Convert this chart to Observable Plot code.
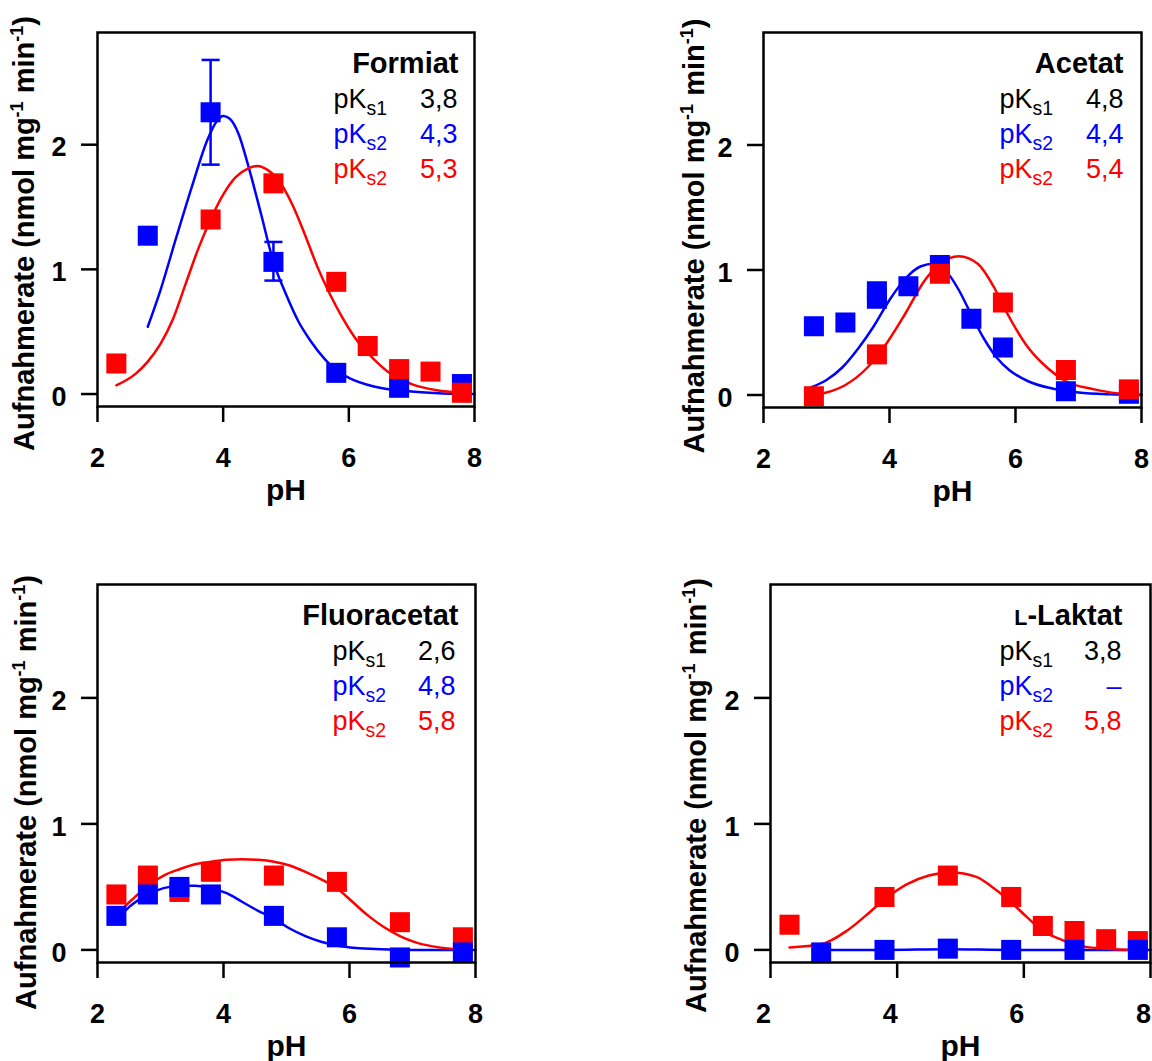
<!DOCTYPE html>
<html>
<head>
<meta charset="utf-8">
<script src="https://cdn.jsdelivr.net/npm/d3@7"></script>
<script src="https://cdn.jsdelivr.net/npm/@observablehq/plot@0.6"></script>
<style>
  html, body { margin: 0; padding: 0; background: #fff; }
  #root { position: relative; width: 1152px; height: 1061px; overflow: hidden; background: #fff; }
  .panel { position: absolute; }
</style>
</head>
<body>
<div id="root"></div>
<script>
// ---------- axes ----------
const xTicks = [2, 4, 6, 8];
const yTicks = [0, 1, 2];
const xDomain = [2, 8];
const yDomain = [-0.1, 2.9];
const xLabel = "pH";
const yLabel = "Aufnahmerate (nmol mg^{-1} min^{-1})";

// ---------- annotations ----------
const substrates = ["Formiat", "Acetat", "Fluoracetat", "~{L}-Laktat"];
const pKLabels = ["pK_{s1}", "pK_{s2}", "pK_{s2}"];
const pKs1 = ["3,8", "4,8", "2,6", "3,8"];
const pKs2Blue = ["4,3", "4,4", "4,8", "–"];
const pKs2Red = ["5,3", "5,4", "5,8", "5,8"];

// ---------- Formiat ----------
const formiatBlue = [[2.8, 1.27], [3.8, 2.26], [4.8, 1.06], [5.8, 0.17], [6.8, 0.05], [7.8, 0.08]];
const formiatBlueErr = [[3.8, 1.84, 2.68], [4.8, 0.91, 1.22]];
const formiatRed = [[2.3, 0.245], [3.8, 1.40], [4.8, 1.69], [5.8, 0.90], [6.3, 0.385], [6.8, 0.20], [7.3, 0.18], [7.8, 0.01]];
const formiatBlueFit = [[2.8, 0.54], [3.0, 0.83], [3.25, 1.25], [3.5, 1.66], [3.75, 2.04], [3.9, 2.19], [4.0, 2.23], [4.1, 2.21], [4.25, 2.08], [4.4, 1.83], [4.6, 1.45], [4.8, 1.06], [5.0, 0.80], [5.2, 0.58], [5.4, 0.42], [5.6, 0.29], [5.8, 0.19], [6.0, 0.13], [6.4, 0.06], [7.0, 0.02], [7.5, 0.005], [8.0, 0.0]];
const formiatRedFit = [[2.3, 0.07], [2.6, 0.16], [2.8, 0.26], [3.0, 0.40], [3.2, 0.60], [3.4, 0.88], [3.6, 1.16], [3.8, 1.40], [4.0, 1.60], [4.2, 1.74], [4.4, 1.81], [4.55, 1.83], [4.7, 1.80], [4.9, 1.70], [5.1, 1.52], [5.3, 1.28], [5.5, 1.02], [5.7, 0.80], [5.9, 0.61], [6.1, 0.45], [6.3, 0.33], [6.5, 0.23], [6.7, 0.15], [7.0, 0.08], [7.4, 0.03], [7.8, 0.01]];

// ---------- Acetat ----------
const acetatBlue = [[2.8, 0.55], [3.3, 0.58], [3.8, 0.77], [3.8, 0.83], [4.3, 0.87], [4.8, 1.04], [5.3, 0.61], [5.8, 0.38], [6.8, 0.03], [7.8, 0.01]];
const acetatBlueErr = [[4.8, 0.98, 1.10]];
const acetatRed = [[2.8, -0.01], [3.8, 0.325], [4.8, 0.97], [5.8, 0.74], [6.8, 0.20], [7.8, 0.045]];
const acetatBlueFit = [[2.75, 0.06], [3.0, 0.12], [3.25, 0.22], [3.5, 0.37], [3.75, 0.55], [4.0, 0.76], [4.25, 0.93], [4.5, 1.03], [4.7, 1.05], [4.9, 0.99], [5.1, 0.84], [5.3, 0.64], [5.5, 0.45], [5.7, 0.30], [5.9, 0.20], [6.2, 0.11], [6.6, 0.05], [7.0, 0.02], [7.5, 0.005], [8.0, 0.0]];
const acetatRedFit = [[2.8, 0.0], [3.0, 0.02], [3.3, 0.08], [3.65, 0.22], [3.95, 0.41], [4.25, 0.65], [4.55, 0.91], [4.8, 1.05], [5.1, 1.11], [5.4, 1.05], [5.65, 0.87], [5.85, 0.67], [6.2, 0.38], [6.5, 0.22], [6.8, 0.11], [7.25, 0.045], [7.6, 0.015], [8.0, 0.005]];

// ---------- Fluoracetat ----------
const fluorBlue = [[2.3, 0.27], [2.8, 0.44], [3.3, 0.50], [3.8, 0.44], [4.8, 0.27], [5.8, 0.10], [6.8, -0.06], [7.8, -0.02]];
const fluorRed = [[2.3, 0.44], [2.8, 0.59], [3.3, 0.46], [3.8, 0.62], [4.8, 0.59], [5.8, 0.54], [6.8, 0.22], [7.8, 0.10]];
const fluorBlueFit = [[2.3, 0.24], [2.55, 0.36], [2.8, 0.44], [3.05, 0.49], [3.3, 0.51], [3.55, 0.51], [3.8, 0.49], [4.05, 0.45], [4.3, 0.38], [4.55, 0.31], [4.8, 0.25], [5.05, 0.17], [5.3, 0.11], [5.55, 0.065], [5.8, 0.035], [6.1, 0.015], [6.5, 0.005], [7.0, 0.0], [8.0, 0.0]];
const fluorRedFit = [[2.3, 0.28], [2.55, 0.40], [2.8, 0.51], [3.05, 0.59], [3.3, 0.64], [3.55, 0.68], [3.8, 0.70], [4.05, 0.715], [4.3, 0.72], [4.55, 0.715], [4.8, 0.70], [5.05, 0.67], [5.3, 0.62], [5.55, 0.56], [5.8, 0.49], [6.05, 0.38], [6.3, 0.27], [6.55, 0.18], [6.8, 0.11], [7.05, 0.06], [7.3, 0.03], [7.6, 0.01], [7.8, 0.005]];

// ---------- L-Laktat ----------
const laktatBlue = [[2.8, -0.02], [3.8, 0.0], [4.8, 0.01], [5.8, 0.0], [6.8, 0.0], [7.8, 0.0]];
const laktatRed = [[2.3, 0.20], [3.8, 0.42], [4.8, 0.59], [5.8, 0.42], [6.3, 0.19], [6.8, 0.15], [7.3, 0.085], [7.8, 0.07]];
const laktatBlueFit = [[2.8, 0.0], [3.8, 0.0], [4.8, 0.005], [5.8, 0.0], [6.8, 0.0], [8.0, 0.0]];
const laktatRedFit = [[2.3, 0.02], [2.8, 0.045], [3.2, 0.15], [3.5, 0.27], [3.8, 0.40], [4.15, 0.52], [4.5, 0.59], [4.85, 0.615], [5.25, 0.58], [5.5, 0.50], [5.75, 0.40], [6.05, 0.26], [6.3, 0.15], [6.6, 0.08], [6.9, 0.03], [7.3, 0.01], [7.75, 0.0]];

// ---------- layout / style ----------
const BLUE = "#0000ff", RED = "#ff0000", BLACK = "#000000";
const FONT = "'Liberation Sans', Arial, Helvetica, sans-serif";

const panels = [
  {left: 0, top: 0, width: 576, height: 552, mL: 97, mR: 102, mT: 32, mB: 146, ylDx: -64, ylDy: 14, titleDx: -16, pkDx: -141, valDx: -17, xtDx: 0,
   blue: formiatBlue, red: formiatRed, blueFit: formiatBlueFit, redFit: formiatRedFit, err: formiatBlueErr, redOnTop: true},
  {left: 576, top: 0, width: 576, height: 552, mL: 187, mR: 11, mT: 32, mB: 145, ylDx: -60, ylDy: 16, titleDx: -18, pkDx: -142, valDx: -18, xtDx: 0,
   blue: acetatBlue, red: acetatRed, blueFit: acetatBlueFit, redFit: acetatRedFit, err: acetatBlueErr, redOnTop: true},
  {left: 0, top: 552, width: 576, height: 509, mL: 97, mR: 101, mT: 32, mB: 99, ylDx: -62, ylDy: 19, titleDx: -17, pkDx: -143, valDx: -20, xtDx: 0,
   blue: fluorBlue, red: fluorRed, blueFit: fluorBlueFit, redFit: fluorRedFit, err: [], redOnTop: false},
  {left: 576, top: 552, width: 576, height: 509, mL: 194, mR: 2, mT: 32, mB: 99, ylDx: -65, ylDy: 22, titleDx: -28, pkDx: -151, valDx: -29, xtDx: -7,
   blue: laktatBlue, red: laktatRed, blueFit: laktatBlueFit, redFit: laktatRedFit, err: [], redOnTop: false}
];

const capSymbol = {
  draw(ctx, size) {
    const h = Math.sqrt(size / Math.PI) * 0.8;
    ctx.moveTo(-h, 0);
    ctx.lineTo(h, 0);
  }
};

// turn markup _{sub} ^{sup} ~{smallcap} into tspans
function richify(svg) {
  const re = /([_^~])\{([^}]*)\}/g;
  svg.querySelectorAll("text").forEach(t => {
    const s = t.textContent;
    if (!/[_^~]\{/.test(s)) return;
    const segs = [];
    let last = 0, m;
    re.lastIndex = 0;
    while ((m = re.exec(s))) {
      if (m.index > last) segs.push({type: "n", txt: s.slice(last, m.index)});
      segs.push({type: m[1], txt: m[2]});
      last = m.index + m[0].length;
    }
    if (last < s.length) segs.push({type: "n", txt: s.slice(last)});
    t.textContent = "";
    let shift = 0;
    for (const sg of segs) {
      const ts = document.createElementNS("http://www.w3.org/2000/svg", "tspan");
      let target = 0;
      if (sg.type === "_") { ts.setAttribute("font-size", "0.72em"); target = 7; }
      else if (sg.type === "^") { ts.setAttribute("font-size", "0.62em"); target = -11; }
      else if (sg.type === "~") { ts.setAttribute("font-size", "0.74em"); }
      if (target !== shift) ts.setAttribute("dy", String(target - shift));
      shift = target;
      ts.textContent = sg.txt;
      t.appendChild(ts);
    }
  });
}

const root = document.getElementById("root");
const P = d => d[0], V = d => d[1];
const intFmt = d => String(d);

panels.forEach((cfg, i) => {
  const blueLayer = [
    Plot.ruleX(cfg.err, {x: d => d[0], y1: d => d[1], y2: d => d[2], stroke: BLUE, strokeWidth: 2.5}),
    Plot.dot(cfg.err, {x: d => d[0], y: d => d[1], symbol: capSymbol, r: 11.3, fill: "none", stroke: BLUE, strokeWidth: 2.5}),
    Plot.dot(cfg.err, {x: d => d[0], y: d => d[2], symbol: capSymbol, r: 11.3, fill: "none", stroke: BLUE, strokeWidth: 2.5}),
    Plot.dot(cfg.blue, {x: P, y: V, symbol: "square", r: 11.3, fill: BLUE, stroke: "none"})
  ];
  const redLayer = [
    Plot.dot(cfg.red, {x: P, y: V, symbol: "square", r: 11.3, fill: RED, stroke: "none"})
  ];
  const rowColors = [BLACK, BLUE, RED];
  const rowValues = [pKs1[i], pKs2Blue[i], pKs2Red[i]];
  const rowDy = [75, 110, 145];
  const annot = [
    Plot.text([substrates[i]], {text: d => d, frameAnchor: "top-right", textAnchor: "end", lineAnchor: "bottom",
      dx: cfg.titleDx, dy: 40, fontSize: 29, fontWeight: "bold", fill: BLACK})
  ];
  for (let r = 0; r < 3; r++) {
    annot.push(Plot.text([pKLabels[r]], {text: d => d, frameAnchor: "top-right", textAnchor: "start", lineAnchor: "bottom",
      dx: cfg.pkDx, dy: rowDy[r], fontSize: 27, fill: rowColors[r]}));
    annot.push(Plot.text([rowValues[r]], {text: d => d, frameAnchor: "top-right", textAnchor: "end", lineAnchor: "bottom",
      dx: cfg.valDx, dy: rowDy[r], fontSize: 27, fill: rowColors[r]}));
  }

  const svg = Plot.plot({
    width: cfg.width,
    height: cfg.height,
    marginLeft: cfg.mL,
    marginRight: cfg.mR,
    marginTop: cfg.mT,
    marginBottom: cfg.mB,
    style: `font-family: ${FONT}; overflow: visible; max-width: none; background: transparent; color: #000;`,
    x: {domain: xDomain},
    y: {domain: yDomain},
    marks: [
      Plot.axisX({ticks: xTicks, tickSize: 16, strokeWidth: 2.5, tickFormat: () => "", label: null}),
      Plot.axisX({ticks: xTicks, tickSize: 0, tickPadding: 41, tickFormat: intFmt, fontSize: 27, fontWeight: "bold", label: null, dx: cfg.xtDx}),
      Plot.axisY({ticks: yTicks, tickSize: 16, strokeWidth: 2.5, tickFormat: () => "", label: null}),
      Plot.axisY({ticks: yTicks, tickSize: 0, tickPadding: 31, tickFormat: intFmt, fontSize: 27, fontWeight: "bold", label: null, dy: 3}),
      Plot.line(cfg.blueFit, {x: P, y: V, stroke: BLUE, strokeWidth: 2.5, curve: "monotone-x"}),
      Plot.line(cfg.redFit, {x: P, y: V, stroke: RED, strokeWidth: 2.5, curve: "monotone-x"}),
      ...(cfg.redOnTop ? [...blueLayer, ...redLayer] : [...redLayer, ...blueLayer]),
      Plot.frame({stroke: BLACK, strokeWidth: 2.5}),
      Plot.text([xLabel], {text: d => d, frameAnchor: "bottom", lineAnchor: "bottom", dy: 93, fontSize: 30, fontWeight: "bold", fill: BLACK}),
      Plot.text([yLabel], {text: d => d, frameAnchor: "left", rotate: -90, textAnchor: "middle", lineAnchor: "bottom",
        dx: cfg.ylDx, dy: cfg.ylDy, fontSize: 29, fontWeight: "bold", fill: BLACK}),
      ...annot
    ]
  });
  richify(svg);
  const div = document.createElement("div");
  div.className = "panel";
  div.style.left = cfg.left + "px";
  div.style.top = cfg.top + "px";
  div.appendChild(svg);
  root.appendChild(div);
});
</script>
</body>
</html>
